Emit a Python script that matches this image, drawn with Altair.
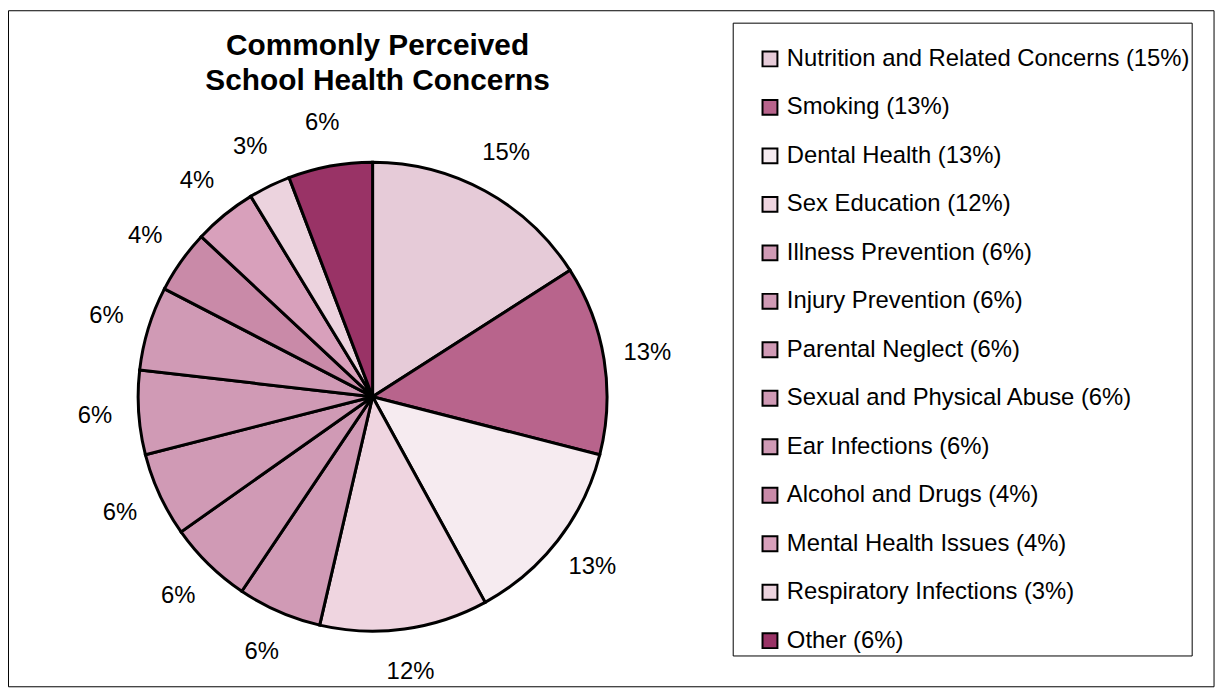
import altair as alt
import pandas as pd

# ---- data ----
categories = [
    "Nutrition and Related Concerns", "Smoking", "Dental Health", "Sex Education",
    "Illness Prevention", "Injury Prevention", "Parental Neglect",
    "Sexual and Physical Abuse", "Ear Infections", "Alcohol and Drugs",
    "Mental Health Issues", "Respiratory Infections", "Other",
]
counts = [11, 9, 9, 8, 4, 4, 4, 4, 4, 3, 3, 2, 4]
pct_labels = ["15%", "13%", "13%", "12%", "6%", "6%", "6%", "6%", "6%", "4%", "4%", "3%", "6%"]
colors = [
    "#e6cbd8", "#b8648c", "#f6ebf0", "#efd5e0",
    "#d09ab5", "#d09ab5", "#d09ab5", "#d09ab5", "#d09ab5",
    "#c98aa8", "#d8a0bb", "#ecd3de", "#993366",
]
title_lines = ["Commonly Perceived", "School Health Concerns"]

legend_labels = [f"{c} ({p})" for c, p in zip(categories, pct_labels)]
df = pd.DataFrame({
    "idx": list(range(len(categories))),
    "category": legend_labels,
    "count": counts,
    "pct": pct_labels,
})

W, H = 1219, 684
CX, CY, R = 367, 389, 236
FONT = "Liberation Sans"

one = pd.DataFrame({"a": [0]})

frame = alt.Chart(one).mark_rect(fill="white", stroke="black", strokeWidth=1).encode(
    x=alt.value(0.5), x2=alt.value(1214), y=alt.value(0.5), y2=alt.value(681)
)

legend_box = alt.Chart(one).mark_rect(fill="white", stroke="black", strokeWidth=1).encode(
    x=alt.value(730), x2=alt.value(1192), y=alt.value(13), y2=alt.value(650)
)

pie = alt.Chart(df).mark_arc(outerRadius=R, stroke="black", strokeWidth=3).encode(
    x=alt.value(CX),
    y=alt.value(CY),
    theta=alt.Theta("count:Q", stack=True),
    order=alt.Order("idx:Q"),
    color=alt.Color(
        "category:N",
        sort=legend_labels,
        scale=alt.Scale(domain=legend_labels, range=colors),
        legend=alt.Legend(
            title=None, orient="none", legendX=755, legendY=37,
            symbolType="square", symbolSize=225, symbolStrokeColor="black",
            symbolStrokeWidth=2, labelFontSize=24, labelFont=FONT,
            labelColor="black", labelOffset=5, rowPadding=24.8, padding=0,
            labelLimit=700,
        ),
    ),
)

labels = alt.Chart(df).mark_text(radius=280, fontSize=24, font=FONT, color="black").encode(
    x=alt.value(CX),
    y=alt.value(CY),
    theta=alt.Theta("count:Q", stack=True),
    order=alt.Order("idx:Q"),
    text="pct:N",
)

title = alt.Chart(one).mark_text(
    fontSize=30, fontWeight="bold", font=FONT, color="black",
    align="center", baseline="alphabetic", lineHeight=35,
).encode(x=alt.value(372), y=alt.value(45), text=alt.value(title_lines))

chart = alt.layer(frame, legend_box, pie, labels, title).properties(
    width=W, height=H, padding=0, autosize=alt.AutoSizeParams(type="none"),
    background="white",
).configure_view(stroke=None)

chart.save("out.html", embed_options={"renderer": "svg", "actions": False})
